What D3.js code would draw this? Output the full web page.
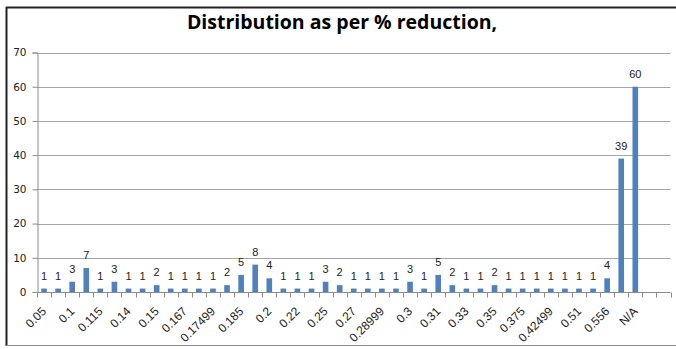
<!DOCTYPE html>
<html><head><meta charset="utf-8">
<script src="https://cdn.jsdelivr.net/npm/d3@7/dist/d3.min.js"></script>
<style>body{margin:0;background:#fff}svg{display:block}</style>
</head><body>
<script>
const categoryLabels = ["0.05","","0.1","","0.115","","0.14","","0.15","","0.167","","0.17499","","0.185","","0.2","","0.22","","0.25","","0.27","","0.28999","","0.3","","0.31","","0.33","","0.35","","0.375","","0.42499","","0.51","","0.556","","N/A","",""];
const counts = [1,1,3,7,1,3,1,1,2,1,1,1,1,2,5,8,4,1,1,1,3,2,1,1,1,1,3,1,5,2,1,1,2,1,1,1,1,1,1,1,4,39,60,null,null];
const yTicks = [0,10,20,30,40,50,60,70];
const title = "Distribution as per % reduction,";

const W = 676, H = 349;
const svg = d3.select("body").append("svg").attr("width", W).attr("height", H);

// frame
svg.append("line").attr("x1",6.5).attr("x2",6.5).attr("y1",7).attr("y2",346).attr("stroke","#222").attr("stroke-width",2);
svg.append("line").attr("x1",6).attr("x2",W).attr("y1",7.5).attr("y2",7.5).attr("stroke","#222").attr("stroke-width",2);
svg.append("line").attr("x1",6).attr("x2",W).attr("y1",345.5).attr("y2",345.5).attr("stroke","#888").attr("stroke-width",1);

const idx = d3.range(counts.length);
const x = d3.scaleBand().domain(idx).range([37, 670.5]).paddingInner(0.6).paddingOuter(0.3);
const y = d3.scaleLinear().domain([0,70]).range([292, 52.5]);

// gridlines
svg.append("g").selectAll("line").data(yTicks.filter(d=>d>0)).join("line")
  .attr("x1",37).attr("x2",670.5)
  .attr("y1",d=>Math.round(y(d))+0.5).attr("y2",d=>Math.round(y(d))+0.5)
  .attr("stroke","#a6a6a6");

// y axis
const ya = svg.append("g").attr("transform","translate(37.5,0)")
  .call(d3.axisLeft(y).tickValues(yTicks).tickSize(5).tickPadding(6).tickFormat(d3.format("d")));
ya.select(".domain").attr("stroke","#8c8c8c");
ya.selectAll(".tick line").attr("stroke","#8c8c8c");
ya.selectAll("text").attr("font-family","DejaVu Sans").attr("font-size",10.5).attr("fill","#222");

// x axis (ticks on category boundaries)
const step = x.step();
const xg = svg.append("g").attr("transform","translate(0,292.5)");
xg.append("line").attr("x1",37).attr("x2",670.5).attr("stroke","#8c8c8c");
xg.selectAll(".tk").data(d3.range(counts.length+1)).join("line").attr("class","tk")
  .attr("x1",i=>Math.round(37 + i*step)+0.5).attr("x2",i=>Math.round(37 + i*step)+0.5)
  .attr("y1",0).attr("y2",5).attr("stroke","#8c8c8c");
xg.selectAll("text").data(idx.filter(i=>categoryLabels[i])).join("text")
  .attr("transform",i=>`translate(${x(i)+x.bandwidth()/2+3},19.5) rotate(-45)`)
  .attr("text-anchor","end").attr("font-family","Liberation Sans").attr("font-size",12)
  .attr("fill","#222").text(i=>categoryLabels[i]);

// bars
const bars = idx.filter(i=>counts[i]!=null);
svg.append("g").selectAll("rect").data(bars).join("rect")
  .attr("x",i=>x(i)).attr("width",x.bandwidth())
  .attr("y",i=>y(counts[i])).attr("height",i=>y(0)-y(counts[i]))
  .attr("fill","#4f81bd");

// data labels
svg.append("g").selectAll("text").data(bars).join("text")
  .attr("x",i=>x(i)+x.bandwidth()/2).attr("y",i=>y(counts[i])-9)
  .attr("text-anchor","middle").attr("font-family","Liberation Sans").attr("font-size",11)
  .attr("fill","#222").text(i=>counts[i]);

// title
svg.append("text").attr("x",342).attr("y",29).attr("text-anchor","middle")
  .attr("font-family","Open Sans").attr("font-weight","bold").attr("font-size",19.5)
  .attr("fill","#000").text(title);
</script>
</body></html>
